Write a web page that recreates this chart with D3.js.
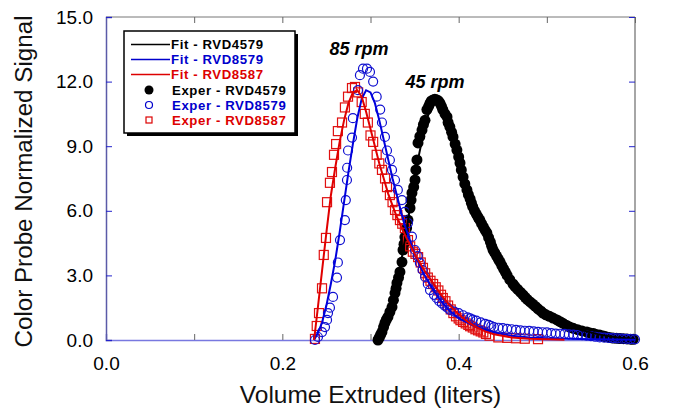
<!DOCTYPE html>
<html><head><meta charset="utf-8">
<script src="https://cdn.jsdelivr.net/npm/d3@7"></script>
<style>body{margin:0;background:#fff}svg{display:block}</style>
</head><body><svg id="c" width="673" height="410"></svg>
<script>
// ---- data ----
const xTicks = [0.0, 0.1, 0.2, 0.3, 0.4, 0.5, 0.6];
const xTickLabels = ["0.0", "", "0.2", "", "0.4", "", "0.6"];
const yTicks = [0, 3, 6, 9, 12, 15];
const yTickLabels = ["0.0", "3.0", "6.0", "9.0", "12.0", "15.0"];
const seriesNames = ["Fit - RVD4579", "Fit - RVD8579", "Fit - RVD8587", "Exper - RVD4579", "Exper - RVD8579", "Exper - RVD8587"];
const annotations = ["85 rpm", "45 rpm"];

const fitRVD4579 = [[0.308,0],[0.315,0.5],[0.32,1.1],[0.325,1.8],[0.33,2.7],[0.335,3.7],[0.34,4.9],[0.345,6.2],[0.35,7.4],[0.355,8.6],[0.36,9.6],[0.365,10.4],[0.37,10.9],[0.375,11.0],[0.38,10.8],[0.385,10.4],[0.39,9.9],[0.395,9.2],[0.40,8.5],[0.41,7.0],[0.42,5.8],[0.43,4.8],[0.44,3.9],[0.45,3.2],[0.46,2.6],[0.47,2.1],[0.48,1.7],[0.49,1.35],[0.50,1.1],[0.52,0.7],[0.54,0.45],[0.56,0.25],[0.58,0.12],[0.60,0.05]];
const fitRVD8579 = [[0.236,0],[0.24,0.3],[0.245,0.8],[0.25,1.6],[0.255,2.6],[0.26,3.7],[0.265,5.0],[0.27,6.4],[0.275,7.8],[0.28,9.1],[0.285,10.3],[0.29,11.2],[0.295,11.6],[0.30,11.5],[0.305,11.0],[0.31,10.2],[0.315,9.3],[0.32,8.4],[0.325,7.5],[0.33,6.7],[0.335,5.9],[0.34,5.2],[0.345,4.6],[0.35,4.0],[0.36,3.1],[0.37,2.4],[0.38,1.8],[0.39,1.35],[0.40,1.0],[0.42,0.6],[0.44,0.35],[0.46,0.2],[0.48,0.12],[0.50,0.08],[0.55,0.03],[0.60,0.01]];
const fitRVD8587 = [[0.236,0],[0.24,1.4],[0.245,3.2],[0.25,5.0],[0.255,6.7],[0.26,8.0],[0.265,9.2],[0.27,10.2],[0.275,11.0],[0.28,11.5],[0.285,11.6],[0.29,11.3],[0.295,10.6],[0.30,9.8],[0.305,9.0],[0.31,8.2],[0.315,7.5],[0.32,6.8],[0.33,5.7],[0.34,4.8],[0.35,4.0],[0.36,3.3],[0.37,2.7],[0.38,2.1],[0.39,1.6],[0.40,1.2],[0.41,0.85],[0.42,0.6],[0.43,0.4],[0.44,0.27],[0.46,0.12],[0.48,0.06],[0.50,0.03],[0.52,0.01]];

const expRVD4579 = [[0.3085,0],[0.310,0.12],[0.3115,0.25],[0.313,0.37],[0.3148,0.6],[0.3164,0.8],[0.318,0.95],[0.3198,1.07],[0.322,1.3],[0.3244,1.53],[0.326,1.85],[0.3278,2.18],[0.329,2.4],[0.330,2.65],[0.3318,2.9],[0.3334,3.16],[0.3357,3.62],[0.3369,4.18],[0.338,4.45],[0.339,4.78],[0.341,5.2],[0.3425,5.57],[0.3448,6.13],[0.346,6.5],[0.347,6.83],[0.349,7.1],[0.3505,7.43],[0.3515,7.9],[0.3527,8.36],[0.3539,9.15],[0.356,9.45],[0.3584,9.75],[0.360,10.0],[0.3618,10.2],[0.364,10.7],[0.366,10.85],[0.3675,11.0],[0.369,11.1],[0.371,11.15],[0.373,11.18],[0.3754,11.15],[0.377,11.1],[0.3788,11.0],[0.3805,10.85],[0.382,10.7],[0.3845,10.5],[0.3868,10.36],[0.388,10.1],[0.390,9.9],[0.392,9.65],[0.3936,9.43],[0.396,9.1],[0.398,8.82],[0.400,8.5],[0.4015,8.22],[0.403,7.9],[0.405,7.57],[0.407,7.25],[0.4094,6.97],[0.411,6.75],[0.413,6.55],[0.4145,6.35],[0.416,6.18],[0.418,6.0],[0.420,5.85],[0.422,5.7],[0.424,5.57],[0.426,5.4],[0.428,5.25],[0.430,5.1],[0.432,4.97],[0.434,4.75],[0.436,4.55],[0.4375,4.35],[0.439,4.18],[0.441,4.05],[0.443,3.9],[0.445,3.75],[0.447,3.62],[0.449,3.45],[0.451,3.3],[0.453,3.15],[0.455,3.0],[0.458,2.8],[0.4616,2.6],[0.464,2.48],[0.467,2.35],[0.470,2.22],[0.473,2.1],[0.4755,1.98],[0.478,1.88],[0.481,1.77],[0.484,1.67],[0.487,1.56],[0.490,1.45],[0.493,1.35],[0.4956,1.25],[0.499,1.17],[0.503,1.1],[0.507,1.02],[0.5115,0.93],[0.515,0.85],[0.518,0.78],[0.522,0.69],[0.526,0.6],[0.530,0.54],[0.535,0.48],[0.540,0.42],[0.5455,0.37],[0.549,0.33],[0.553,0.3],[0.556,0.26],[0.560,0.23],[0.564,0.19],[0.567,0.15],[0.571,0.12],[0.575,0.09],[0.579,0.08],[0.583,0.07],[0.587,0.06],[0.591,0.05],[0.595,0.04],[0.598,0.03]];
const expRVD8579 = [[0.237,0],[0.2404,0.14],[0.245,0.37],[0.2484,0.6],[0.2507,0.93],[0.2518,1.25],[0.254,1.5],[0.2575,2.0],[0.262,2.9],[0.263,3.6],[0.2654,4.64],[0.271,5.57],[0.272,6.5],[0.2733,7.43],[0.2735,8.0],[0.2745,8.8],[0.279,9.4],[0.280,10.3],[0.2858,11.6],[0.288,12.3],[0.2915,12.6],[0.296,12.6],[0.2994,12.45],[0.303,12.0],[0.307,11.3],[0.311,10.7],[0.313,10.1],[0.3164,9.43],[0.3187,8.8],[0.322,8.36],[0.3244,7.9],[0.3278,7.43],[0.331,6.97],[0.3357,6.5],[0.339,5.95],[0.3425,5.43],[0.347,4.8],[0.3505,4.18],[0.3535,3.9],[0.356,3.58],[0.359,3.25],[0.362,2.93],[0.365,2.6],[0.3675,2.32],[0.372,2.1],[0.375,1.95],[0.378,1.8],[0.381,1.7],[0.384,1.6],[0.387,1.5],[0.39,1.4],[0.395,1.32],[0.40,1.25],[0.405,1.15],[0.41,1.05],[0.413,1.0],[0.416,0.95],[0.42,0.9],[0.425,0.82],[0.43,0.75],[0.434,0.7],[0.437,0.65],[0.44,0.6],[0.445,0.57],[0.45,0.55],[0.455,0.52],[0.46,0.5],[0.465,0.47],[0.47,0.45],[0.475,0.43],[0.48,0.42],[0.485,0.4],[0.49,0.38],[0.495,0.36],[0.50,0.35],[0.505,0.32],[0.51,0.3],[0.515,0.29],[0.52,0.28],[0.525,0.26],[0.53,0.25],[0.535,0.24],[0.54,0.22],[0.545,0.2],[0.55,0.18],[0.555,0.15],[0.56,0.12],[0.565,0.11],[0.57,0.1],[0.575,0.09],[0.58,0.08],[0.585,0.06],[0.59,0.05],[0.595,0.04],[0.60,0.03]];
const expRVD8587 = [[0.237,0.05],[0.239,0.65],[0.2416,1.25],[0.245,2.4],[0.247,3.95],[0.2495,4.74],[0.2507,6.4],[0.254,7.3],[0.2563,7.8],[0.2586,8.6],[0.261,9.1],[0.263,9.7],[0.2677,10.1],[0.271,10.8],[0.2745,11.3],[0.279,11.7],[0.2824,11.75],[0.286,11.5],[0.290,11.05],[0.2935,10.5],[0.297,10.1],[0.300,9.5],[0.303,9.2],[0.307,8.6],[0.310,8.2],[0.313,7.9],[0.3165,7.5],[0.3187,7.1],[0.322,6.73],[0.325,6.4],[0.3278,6.04],[0.3305,5.8],[0.3334,5.57],[0.336,5.4],[0.339,5.2],[0.3425,4.64],[0.345,4.35],[0.348,4.1],[0.351,4.0],[0.354,3.85],[0.357,3.6],[0.3595,3.35],[0.362,3.1],[0.365,2.9],[0.368,2.75],[0.371,2.6],[0.374,2.45],[0.377,2.3],[0.380,2.1],[0.382,1.95],[0.385,1.8],[0.388,1.6],[0.391,1.42],[0.394,1.25],[0.397,1.1],[0.400,1.0],[0.402,0.92],[0.405,0.84],[0.408,0.77],[0.411,0.7],[0.413,0.64],[0.416,0.58],[0.419,0.5],[0.422,0.45],[0.425,0.4],[0.428,0.35],[0.431,0.28],[0.435,0.2],[0.445,0.12],[0.455,0.1],[0.465,0.08],[0.475,0.06],[0.49,0.04]];

// ---- chart ----
const svg = d3.select("#c");
const L = 106, R = 635, T = 17, B = 340;
const x = d3.scaleLinear().domain([0, 0.6]).range([L, R]);
const y = d3.scaleLinear().domain([0, 15]).range([B, T]);
const font = "'Liberation Sans', Arial, sans-serif";

const line = d3.line().x(d => x(d[0])).y(d => y(d[1]));

// frame
svg.append("line").attr("x1", L).attr("x2", R).attr("y1", T).attr("y2", T).attr("stroke", "#777").attr("stroke-width", 1);
svg.append("line").attr("x1", R).attr("x2", R).attr("y1", T).attr("y2", B).attr("stroke", "#888").attr("stroke-width", 1.5);

// axes
const gx = svg.append("g").attr("transform", `translate(0,${B})`)
  .call(d3.axisBottom(x).tickValues(xTicks).tickSize(-6).tickPadding(17).tickFormat((d, i) => xTickLabels[i]));
gx.select(".domain").attr("stroke", "#7878e0").attr("stroke-width", 1.5);
gx.selectAll(".tick line").attr("stroke", "#666");
gx.selectAll("text").attr("font-family", font).attr("font-size", 19).attr("fill", "#000");

const gxt = svg.append("g").attr("transform", `translate(0,${T})`)
  .call(d3.axisTop(x).tickValues(xTicks).tickSize(-6).tickFormat(""));
gxt.select(".domain").remove();
gxt.selectAll(".tick line").attr("stroke", "#666");

const gy = svg.append("g").attr("transform", `translate(${L},0)`)
  .call(d3.axisLeft(y).tickValues(yTicks).tickSize(-6).tickPadding(13).tickFormat((d, i) => yTickLabels[i]));
gy.select(".domain").attr("stroke", "#5a5aa8").attr("stroke-width", 1.5);
gy.selectAll(".tick line").attr("stroke", "#2222cc");
gy.selectAll("text").attr("font-family", font).attr("font-size", 19).attr("fill", "#000");

const gyr = svg.append("g").attr("transform", `translate(${R},0)`)
  .call(d3.axisRight(y).tickValues(yTicks).tickSize(-6).tickFormat(""));
gyr.select(".domain").remove();
gyr.selectAll(".tick line").attr("stroke", "#2222cc");

// axis titles
svg.append("text").attr("x", 370.5).attr("y", 403).attr("text-anchor", "middle")
  .attr("font-family", font).attr("font-size", 24.5).attr("fill", "#111").text("Volume Extruded (liters)");
svg.append("text").attr("transform", `translate(32,181.5) rotate(-90)`).attr("text-anchor", "middle")
  .attr("font-family", font).attr("font-size", 24.2).attr("fill", "#111").text("Color Probe Normalized Signal");

// experimental markers
const plot = svg.append("g");
plot.selectAll("circle.b4579").data(expRVD4579).join("circle")
  .attr("cx", d => x(d[0])).attr("cy", d => y(d[1])).attr("r", 5.5).attr("fill", "#000");
plot.selectAll("rect.r8587").data(expRVD8587).join("rect")
  .attr("x", d => x(d[0]) - 4.5).attr("y", d => y(d[1]) - 4.5).attr("width", 9).attr("height", 9)
  .attr("fill", "none").attr("stroke", "#e01010").attr("stroke-width", 1.2);
plot.selectAll("circle.o8579").data(expRVD8579).join("circle")
  .attr("cx", d => x(d[0])).attr("cy", d => y(d[1])).attr("r", 4.5)
  .attr("fill", "none").attr("stroke", "#1010d0").attr("stroke-width", 1.2);

// fit lines
plot.append("path").datum(fitRVD4579).attr("d", line).attr("fill", "none").attr("stroke", "#000").attr("stroke-width", 2);
plot.append("path").datum(fitRVD8579).attr("d", line).attr("fill", "none").attr("stroke", "#0000dd").attr("stroke-width", 2);
plot.append("path").datum(fitRVD8587).attr("d", line).attr("fill", "none").attr("stroke", "#e00000").attr("stroke-width", 2);

// annotations
svg.append("text").attr("x", 359).attr("y", 55).attr("text-anchor", "middle").attr("font-family", font)
  .attr("font-size", 18).attr("font-weight", "bold").attr("font-style", "italic").text(annotations[0]);
svg.append("text").attr("x", 435).attr("y", 88).attr("text-anchor", "middle").attr("font-family", font)
  .attr("font-size", 18).attr("font-weight", "bold").attr("font-style", "italic").text(annotations[1]);

// legend
const lg = svg.append("g");
lg.append("rect").attr("x", 127).attr("y", 34).attr("width", 171).attr("height", 102).attr("fill", "#000");
lg.append("rect").attr("x", 124).attr("y", 31).attr("width", 171).attr("height", 102).attr("fill", "#fff").attr("stroke", "#000").attr("stroke-width", 1.5);
const legColors = ["#000", "#0000cc", "#dd0000", "#000", "#0000cc", "#dd0000"];
const legY = [44.5, 59.5, 74.5, 90, 105, 120];
seriesNames.forEach((name, i) => {
  const yy = legY[i];
  if (i < 3) {
    lg.append("line").attr("x1", 131).attr("x2", 170).attr("y1", yy).attr("y2", yy).attr("stroke", legColors[i]).attr("stroke-width", 1.5);
  } else if (i === 3) {
    lg.append("circle").attr("cx", 149).attr("cy", yy).attr("r", 4.5).attr("fill", "#000");
  } else if (i === 4) {
    lg.append("circle").attr("cx", 149).attr("cy", yy).attr("r", 3.5).attr("fill", "none").attr("stroke", "#0000cc").attr("stroke-width", 1.2);
  } else {
    lg.append("rect").attr("x", 146).attr("y", yy - 3).attr("width", 6).attr("height", 6).attr("fill", "none").attr("stroke", "#dd0000").attr("stroke-width", 1.2);
  }
  lg.append("text").attr("x", i < 3 ? 171 : 172).attr("y", yy + 4.7).attr("font-family", font)
    .attr("font-size", 13.2).attr("letter-spacing", 0.6).attr("font-weight", "bold").attr("fill", legColors[i]).text(name);
});
</script></body></html>
